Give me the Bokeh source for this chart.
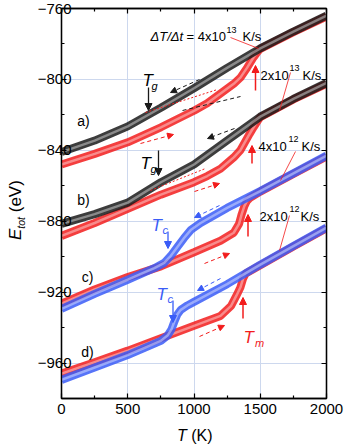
from bokeh.plotting import figure
from bokeh.models import Range1d, LinearAxis, Arrow, NormalHead, Label, FixedTicker, Div
from bokeh.layouts import row, column
from bokeh.embed import file_html
from bokeh.resources import INLINE

# ---------------- data ----------------
# a) 4x10^13 K/s
T_a_cool = [0, 250, 500, 750, 1000, 1250, 1500, 1750, 2000]
E_a_cool = [-841, -834.5, -826.5, -816, -805, -793.5, -782.5, -773, -764]
T_a_heat = [0, 250, 500, 750, 1000, 1100, 1200, 1300, 1350, 1400, 1450, 1480, 1500, 1750, 2000]
E_a_heat = [-848, -842, -835.5, -827, -817.7, -813.5, -808, -802.5, -799, -793.5, -787.5, -784.5, -782.8, -773.3, -764.5]
# b) 2x10^13 K/s
T_b_cool = [0, 250, 500, 750, 1000, 1250, 1500, 1750, 2000]
E_b_cool = [-881.5, -876, -869.5, -858, -848, -834.5, -821, -811, -802]
T_b_heat = [0, 250, 500, 750, 1000, 1100, 1200, 1300, 1350, 1380, 1420, 1450, 1480, 1500, 1750, 2000]
E_b_heat = [-888.3, -881, -873, -865, -858, -854.5, -850.4, -844, -840, -836, -830.7, -827, -823.5, -821.3, -811.3, -802.5]
# c) 4x10^12 K/s
T_c_cool = [0, 250, 500, 700, 775, 825, 875, 925, 975, 1050, 1250, 1500, 1750, 2000]
E_c_cool = [-929.5, -921, -913, -906.5, -903.5, -899.5, -894.5, -889.5, -885, -881, -872.5, -863, -853, -843]
T_c_heat = [0, 250, 500, 750, 1000, 1200, 1300, 1340, 1360, 1380, 1400, 1420, 1500, 1750, 2000]
E_c_heat = [-926.5, -918.5, -911.5, -905.5, -897.5, -891, -886.5, -881.5, -876, -871.5, -868.5, -867, -863.3, -853.3, -843.5]
# d) 2x10^12 K/s
T_d_cool = [0, 250, 500, 750, 800, 830, 850, 875, 900, 950, 1000, 1250, 1500, 1750, 2000]
E_d_cool = [-969.5, -962.5, -955.5, -947.5, -944.5, -941, -937, -932.5, -930, -927.5, -925.5, -915.5, -904.5, -894, -883.6]
T_d_heat = [0, 250, 500, 750, 1000, 1200, 1280, 1320, 1350, 1370, 1390, 1500, 1750, 2000]
E_d_heat = [-966, -959.5, -953, -946, -939, -933.4, -927.7, -922, -917.4, -912.5, -909.5, -904.8, -894.3, -884]

x_ticks = [0, 500, 1000, 1500, 2000]
x_minor = [250, 750, 1250, 1750]
y_ticks = [-960, -920, -880, -840, -800, -760]
y_minor = [-980, -940, -900, -860, -820, -780]

RED = "#f21c1c"
BLUE = "#3a5cf7"
BLACK = "#1a1a1a"
FONT = "Liberation Sans"

# page geometry: y-title strip on the left, x-title strip below
YT_W = 26          # width of left title strip
XT_H = 20          # height of bottom title strip
PW, PH = 344 - YT_W, 447 - XT_H
# frame position in page pixels
FL, FR, FT, FB = 61, 326, 8, 398
def X(px):
    return (px - FL) / (FR - FL) * 2000
def Y(py):
    return -760 - (py - FT) / (FB - FT) * 220

p = figure(width=PW, height=PH, x_range=Range1d(0, 2000), y_range=Range1d(-980, -760),
           output_backend="svg", toolbar_location=None, margin=0,
           min_border_left=FL - YT_W, min_border_right=344 - FR, min_border_top=FT, min_border_bottom=PH - FB)
p.outline_line_color = "black"
p.outline_line_width = 1.3
p.background_fill_color = "white"

for ax in (p.xaxis[0], p.yaxis[0]):
    ax.major_tick_in = 5
    ax.major_tick_out = 0
    ax.minor_tick_in = 3
    ax.minor_tick_out = 0
    ax.axis_line_width = 1.3
    ax.major_tick_line_width = 1.2
    ax.minor_tick_line_width = 1.2
    ax.major_label_text_font = FONT
    ax.major_label_text_font_size = "15px"
    ax.major_label_text_color = "black"
p.yaxis.major_label_standoff = -10
p.xaxis.major_label_standoff = 5
p.xaxis.ticker = FixedTicker(ticks=x_ticks, minor_ticks=x_minor)
p.yaxis.ticker = FixedTicker(ticks=y_ticks, minor_ticks=y_minor)

for loc, tk in (("right", FixedTicker(ticks=y_ticks, minor_ticks=y_minor)),
                ("above", FixedTicker(ticks=x_ticks, minor_ticks=x_minor))):
    ax = LinearAxis(ticker=tk, major_label_text_font_size="0px", major_label_text_color=None,
                    major_label_standoff=0,
                    major_tick_in=5, major_tick_out=0, minor_tick_in=3, minor_tick_out=0,
                    axis_line_width=1.3, major_tick_line_width=1.2, minor_tick_line_width=1.2)
    p.add_layout(ax, loc)

p.xgrid.ticker = FixedTicker(ticks=x_ticks)
p.ygrid.ticker = FixedTicker(ticks=y_ticks)
p.grid.grid_line_color = "#cdd8ee"
p.grid.grid_line_width = 1

def band(T, E, color):
    p.line(T, E, line_color=color, line_width=8, line_alpha=0.85)
    p.line(T, E, line_color="white", line_width=2.5, line_alpha=0.4)

band(T_a_heat, E_a_heat, RED)
band(T_a_cool, E_a_cool, BLACK)
band(T_b_heat, E_b_heat, RED)
band(T_b_cool, E_b_cool, BLACK)
band(T_c_heat, E_c_heat, RED)
band(T_c_cool, E_c_cool, BLUE)
band(T_d_heat, E_d_heat, RED)
band(T_d_cool, E_d_cool, BLUE)

# ---------------- annotations ----------------
def line_ann(x0, y0, x1, y1, color, dash="solid", width=1.0, head=False, hsize=6):
    end = NormalHead(size=hsize, fill_color=color, line_color=color, line_width=1) if head else None
    p.add_layout(Arrow(end=end, x_start=X(x0), y_start=Y(y0), x_end=X(x1), y_end=Y(y1),
                       line_color=color, line_width=width, line_dash=dash))

# dashed direction arrows
line_ann(199, 79, 170, 92, BLACK, "4 3", head=True)
line_ann(182, 110, 240, 96, BLACK, "4 3")
line_ann(145, 112, 217, 89, RED, "2 2")
line_ann(140, 143, 173, 134, RED, "4 3", head=True)
line_ann(234, 128, 207, 138, BLACK, "4 3", head=True)
line_ann(150, 190, 205, 168, RED, "2 2")
line_ann(194, 191, 219, 183, RED, "4 3", head=True)
line_ann(219, 205, 194, 217, BLUE, "4 3", head=True)
line_ann(204, 263, 229, 253, RED, "4 3", head=True)
line_ann(220, 278, 197, 290, BLUE, "4 3", head=True)
line_ann(199, 336, 224, 325, RED, "4 3", head=True)

# solid arrows
line_ann(148, 87, 148, 110, BLACK, width=1.3, head=True, hsize=7)
line_ann(158, 150, 158, 175, BLACK, width=1.3, head=True, hsize=7)
line_ann(167.5, 231, 167.5, 248, BLUE, width=1.3, head=True, hsize=7)
line_ann(172.5, 300, 172.5, 322, BLUE, width=1.3, head=True, hsize=7)
line_ann(255, 90, 255, 65, RED, width=1.5, head=True, hsize=7)
line_ann(251.5, 163, 251.5, 145, RED, width=1.5, head=True, hsize=7)
line_ann(247.5, 236, 247.5, 214, RED, width=1.5, head=True, hsize=7)
line_ann(242.5, 318, 242.5, 297, RED, width=1.5, head=True, hsize=7)

# leader lines
line_ann(230, 37, 258, 48, RED, width=0.8)
line_ann(290, 72, 279, 110, RED, width=0.8)
line_ann(295, 151, 280, 180, RED, width=0.8)
line_ann(289, 215, 279, 250, RED, width=0.8)

def txt(px, py, s, size=13, color="black", style="normal", align="left", base="alphabetic"):
    # frame-relative screen units (x from frame left, y up from frame bottom)
    p.add_layout(Label(x=px - FL, y=FB - py, x_units="screen", y_units="screen",
                       text=s, text_font=FONT, text_font_size=f"{size}px",
                       text_color=color, text_font_style=style, text_align=align,
                       text_baseline=base))

# rate labels
txt(150, 36, "ΔT/Δt", style="italic")
txt(186, 36, "= 4x10")
txt(226, 29, "13", size=9)
txt(242, 36, "K/s")
txt(260, 75, "2x10")
txt(289, 67, "13", size=9)
txt(302, 75, "K/s")
txt(258, 146, "4x10")
txt(288, 138, "12", size=9)
txt(301, 146, "K/s")
txt(259, 216, "2x10")
txt(289, 208, "12", size=9)
txt(300, 216, "K/s")

# T labels
txt(142, 80, "T", size=17, style="italic")
txt(151, 85, "g", size=11, style="italic")
txt(140, 163, "T", size=17, style="italic")
txt(150, 168, "g", size=11, style="italic")
txt(151, 225, "T", size=17, color=BLUE, style="italic")
txt(162, 229, "c", size=11, color=BLUE, style="italic")
txt(156, 294, "T", size=17, color=BLUE, style="italic")
txt(167, 298, "c", size=11, color=BLUE, style="italic")
txt(243, 337, "T", size=17, color=RED, style="italic")
txt(254.5, 342, "m", size=11, color=RED, style="italic")

# panel letters
txt(83, 120, "a)", size=14, align="center", base="middle")
txt(83, 199, "b)", size=14, align="center", base="middle")
txt(87, 276, "c)", size=14, align="center", base="middle")
txt(87, 351, "d)", size=14, align="center", base="middle")

# axis titles as HTML strips around the figure
y_title = Div(width=YT_W, height=PH, margin=0, text=(
    '<div style="position:relative;width:%dpx;height:%dpx;">'
    '<div style="position:absolute;left:7px;top:240px;transform:rotate(-90deg);transform-origin:0 0;'
    'white-space:nowrap;font-family:\'Liberation Sans\';font-size:17px;line-height:17px;color:#000;">'
    '<i>E</i><span style="font-size:10.5px;font-style:italic;position:relative;top:4px;">tot</span> (eV)'
    '</div></div>' % (YT_W, PH)))
x_title = Div(width=344, height=XT_H, margin=0, text=(
    '<div style="padding-left:177px;padding-top:1px;font-family:\'Liberation Sans\';font-size:16px;'
    'line-height:16px;white-space:nowrap;color:#000;"><i>T</i> (K)</div>'))

layout = column(row(y_title, p, spacing=0), x_title, spacing=0)

open("out.html", "w").write(file_html(layout, INLINE))
